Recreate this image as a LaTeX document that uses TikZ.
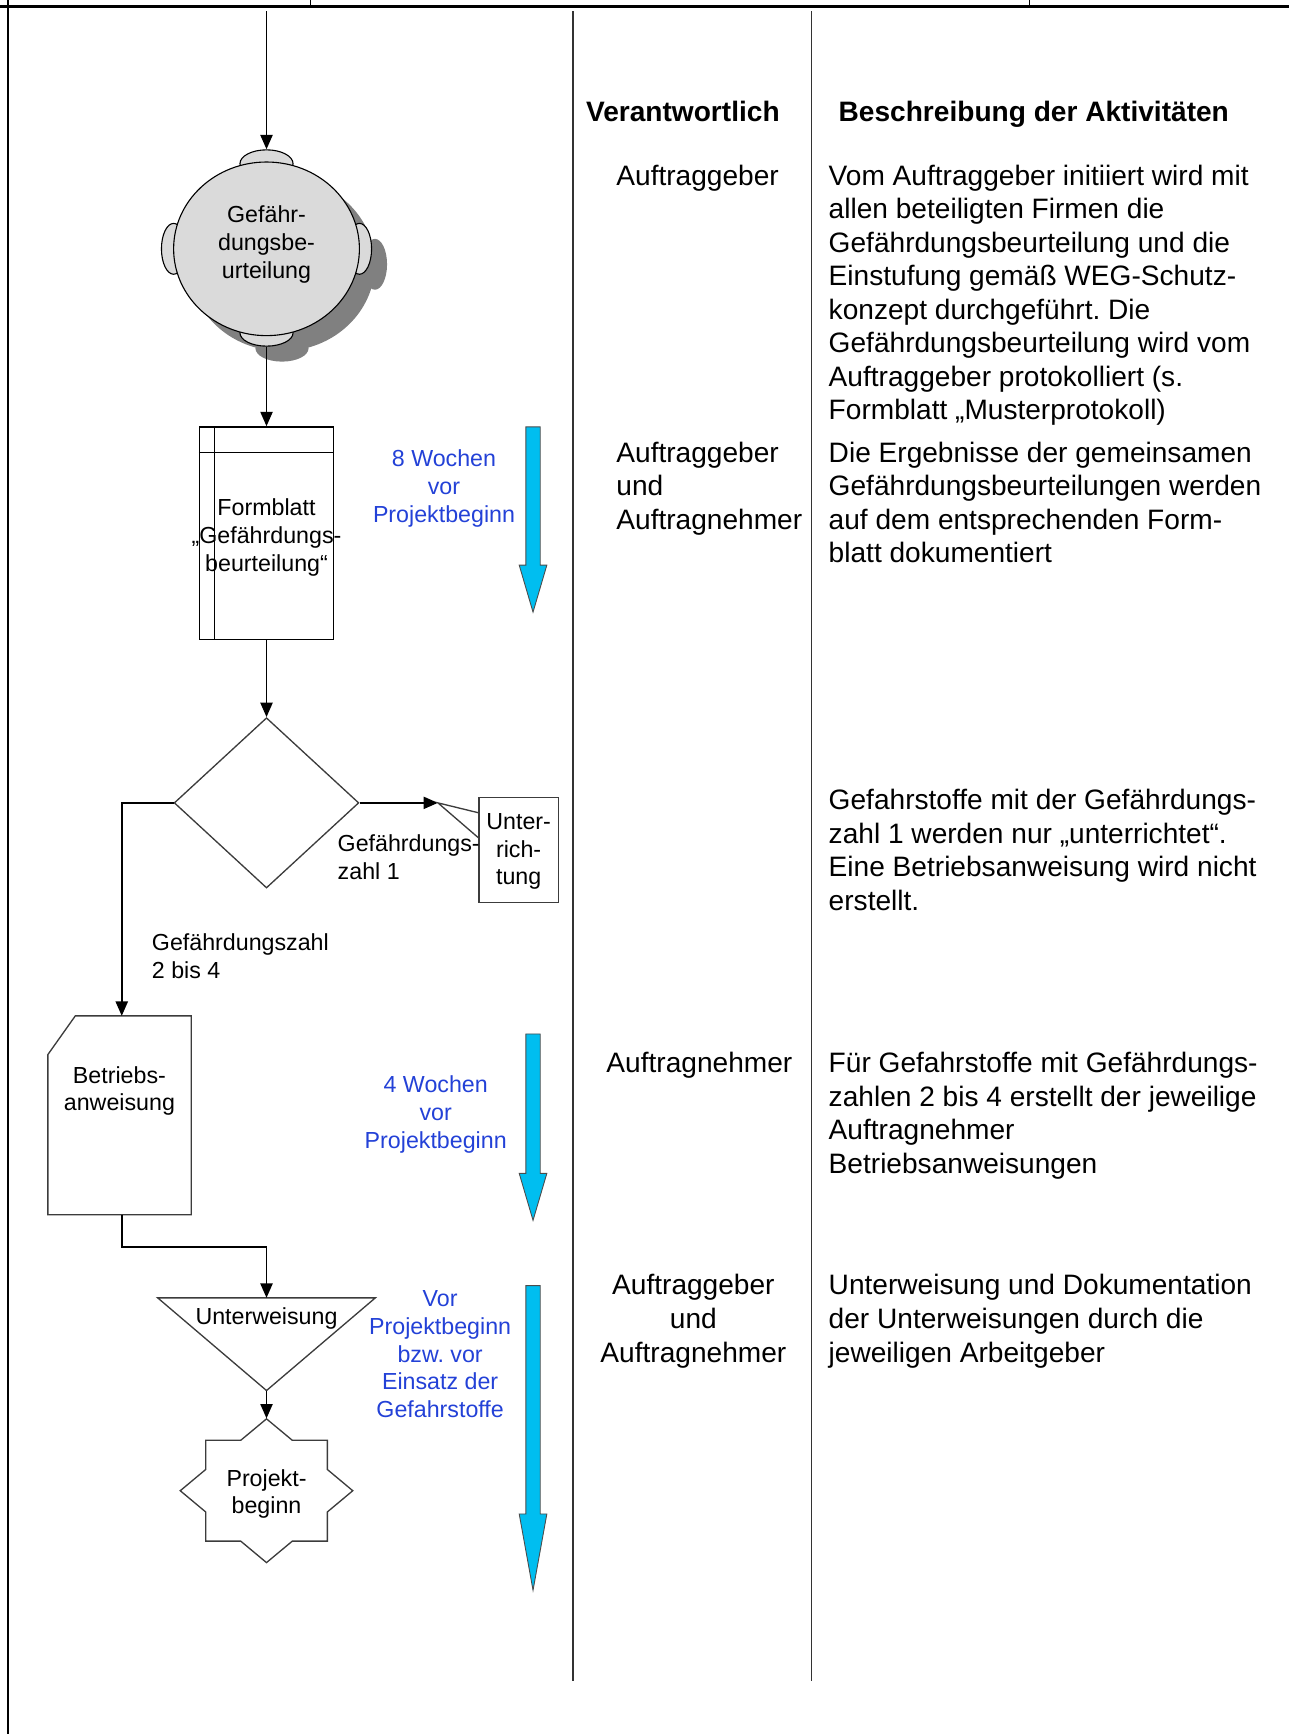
\documentclass[tikz,border=0pt]{standalone}
\usepackage{fontspec}
\setmainfont{Liberation Sans}
\frenchspacing
\usetikzlibrary{shapes.geometric,arrows.meta,calc}
\definecolor{blueT}{RGB}{35,65,215}
\definecolor{cyanA}{RGB}{0,190,240}
\definecolor{circfill}{RGB}{218,218,218}
\definecolor{shadowc}{RGB}{128,128,128}
\definecolor{lineg}{RGB}{60,60,60}
\begin{document}
\begin{tikzpicture}[x=0.5pt,y=-0.5pt,
  big/.style={font=\fontsize{12.7}{15.15}\selectfont, inner sep=0pt},
  hdr/.style={font=\fontsize{12.7}{15.15}\selectfont\bfseries, inner sep=0pt},
  small/.style={font=\fontsize{10.5}{12.6}\selectfont, inner sep=0pt},
  bluetxt/.style={small, text=blueT, align=center},
  flow/.style={draw=black, line width=0.75pt, -{Triangle[length=6.5pt,width=5.5pt]}},
  shapeline/.style={draw=lineg, line width=0.6pt},
  bump/.style={ellipse, fill=circfill, draw=black, line width=0.5pt, inner sep=0pt},
  bigarrow/.style={fill=cyanA, draw=black!70, line width=0.4pt},
]
\useasboundingbox (0,0) rectangle (1166,1568);
\newcommand{\cyanarrow}[4]{%
  \path[bigarrow] (#1-6.5,#2) -- (#1+6.5,#2) -- (#1+6.5,#3) -- (#1+12.5,#3)
    -- (#1,#4) -- (#1-12.5,#3) -- (#1-6.5,#3) -- cycle;}

% frame
\draw[line width=1.3pt] (0,5.5) -- (1166,5.5);
\draw[line width=0.6pt] (281,0) -- (281,5.5) (931,0) -- (931,5.5);
\draw[line width=1pt] (7.5,0) -- (7.5,1568);
\draw[line width=0.6pt, draw=black!80] (518,10) -- (518,1520) (734,10) -- (734,1520);

% headers
\node[hdr, anchor=base] (h1) at (617.5,110) {Verantwortlich};
\node[hdr, anchor=base west] (h2) at (758,110) {Beschreibung der Aktivitäten};

% responsible column (base anchor = last line)
\node[big, anchor=base west] (v1) at (557,167.5) {Auftraggeber};
\node[big, anchor=base west, align=left] (v2) at (557,478.6) {Auftraggeber\\und\\Auftragnehmer};
\node[big, anchor=base west] (v3) at (548,970) {Auftragnehmer};
\node[big, anchor=base, align=center] (v4) at (627,1231.6) {Auftraggeber\\und\\Auftragnehmer};

% description column (base anchor = last line)
\node[big, anchor=base west, align=left] (d1) at (749,379.6) {Vom Auftraggeber initiiert wird mit\\allen beteiligten Firmen die\\Gefährdungsbeurteilung und die\\Einstufung gemäß WEG-Schutz-\\konzept durchgeführt. Die\\Gefährdungsbeurteilung wird vom\\Auftraggeber protokolliert (s.\\Formblatt „Musterprotokoll)};
\node[big, anchor=base west, align=left] (d2) at (749,508.9) {Die Ergebnisse der gemeinsamen\\Gefährdungsbeurteilungen werden\\auf dem entsprechenden Form-\\blatt dokumentiert};
\node[big, anchor=base west, align=left] (d3) at (749,822.9) {Gefahrstoffe mit der Gefährdungs-\\zahl 1 werden nur „unterrichtet“.\\Eine Betriebsanweisung wird nicht\\erstellt.};
\node[big, anchor=base west, align=left] (d4) at (749,1060.9) {Für Gefahrstoffe mit Gefährdungs-\\zahlen 2 bis 4 erstellt der jeweilige\\Auftragnehmer\\Betriebsanweisungen};
\node[big, anchor=base west, align=left] (d5) at (749,1231.6) {Unterweisung und Dokumentation\\der Unterweisungen durch die\\jeweiligen Arbeitgeber};

% circle with shadow
\begin{scope}[shift={(14,14)}]
  \fill[shadowc] (241,225) ellipse [x radius=84, y radius=78.5];
  \fill[shadowc] (241,148) ellipse [x radius=24, y radius=12.5];
  \fill[shadowc] (241,301) ellipse [x radius=24, y radius=12];
  \fill[shadowc] (157,225) ellipse [x radius=11, y radius=23];
  \fill[shadowc] (325,225) ellipse [x radius=11, y radius=23];
\end{scope}
\node[bump, minimum width=24pt, minimum height=12.5pt] (bt) at (241,148) {};
\node[bump, minimum width=24pt, minimum height=12pt] (bb) at (241,301) {};
\node[bump, minimum width=11pt, minimum height=23pt] (bl) at (157,225) {};
\node[bump, minimum width=11pt, minimum height=23pt] (br) at (325,225) {};
\node[ellipse, fill=circfill, draw=black, line width=0.5pt, inner sep=0pt,
      minimum width=84pt, minimum height=78.5pt] (gb) at (241,225) {};
\node[small, align=center] (gbt) at (241,221) {Gefähr-\\dungsbe-\\urteilung};

\coordinate (start) at (241,10);
\draw[flow] (start) -- (bt.north);

% Formblatt
\node[draw=black, line width=0.6pt, minimum width=60.5pt, minimum height=96pt, inner sep=0pt] (fb) at (241,482) {};
\draw[line width=0.6pt] ($(fb.north west)+(14,0)$) -- ($(fb.south west)+(14,0)$);
\draw[line width=0.6pt] ($(fb.north west)+(0,23.5)$) -- ($(fb.north east)+(0,23.5)$);
\node[small, align=center] (fbt) at (241,486) {Formblatt\\„Gefährdungs-\\beurteilung“};
\draw[flow] (bb.south) -- (fb.north);

% decision
\node[diamond, shapeline, aspect=1.08, minimum width=83.5pt, minimum height=77pt, inner sep=0pt] (dec) at (241,726) {};
\draw[flow] (fb.south) -- (dec.north);

% Unterrichtung
\node[shapeline, draw, minimum width=36pt, minimum height=47.5pt, inner sep=0pt] (unt) at (469,768.5) {};
\node[small, align=center] (untt) at (469,770) {Unter-\\rich-\\tung};
\coordinate (utip) at (396,726);
\draw[flow] (dec.east) -- (utip);
\draw[shapeline] ($(unt.north west)+(0,14.5)$) -- (utip) -- ($(unt.north west)+(0,37)$);
\node[small, align=left, anchor=base west] (l1) at (305,795.2) {Gefährdungs-\\zahl 1};
\node[small, align=left, anchor=base west] (l2) at (137,884.7) {Gefährdungszahl\\2 bis 4};

% Betriebsanweisung
\node[minimum width=64.4pt, minimum height=89.5pt, inner sep=0pt] (ba) at (108.1,1008.5) {};
\draw[shapeline] (ba.south west) -- (ba.south east) -- (ba.north east)
  -- ($(ba.north west)+(24.8,0)$) -- ($(ba.north west)+(0,35)$) -- cycle;
\node[small, align=center] (bat) at (108,986.5) {Betriebs-\\anweisung};
\draw[flow] (dec.west) -| ([xshift=1pt]ba.north);

% Unterweisung
\node[minimum width=98pt, minimum height=41.5pt, inner sep=0pt] (uw) at (241,1215.5) {};
\draw[shapeline] (uw.north west) -- (uw.north east) -- (uw.south) -- cycle;
\node[small, anchor=base] (uwt) at (241,1197.5) {Unterweisung};
\draw[flow] ([xshift=1pt]ba.south) -- ++(0,29) -| (uw.north);

% Projektbeginn star
\node[minimum width=78pt, minimum height=65pt, inner sep=0pt] (st) at (241,1348) {};
\draw[shapeline, shift={(st.center)}] (0,-65) -- (23.3,-45.6) -- (55,-45.6) -- (55,-19.2) -- (78,0)
  -- (55,19.2) -- (55,45.6) -- (23.3,45.6) -- (0,65) -- (-23.3,45.6) -- (-55,45.6) -- (-55,19.2)
  -- (-78,0) -- (-55,-19.2) -- (-55,-45.6) -- (-23.3,-45.6) -- cycle;
\node[small, align=center] (stt) at (241,1351) {Projekt-\\beginn};
\draw[flow] (uw.south) -- (st.north);

% time arrows and labels
\cyanarrow{482}{386}{511}{553.5}
\cyanarrow{482}{935}{1061}{1103.5}
\cyanarrow{482}{1162.5}{1369}{1438}
\node[bluetxt] (t8) at (401.5,441.5) {8 Wochen\\vor\\Projektbeginn};
\node[bluetxt] (t4) at (394,1007.5) {4 Wochen\\vor\\Projektbeginn};
\node[bluetxt] (tv) at (398,1224.5) {Vor\\Projektbeginn\\bzw. vor\\Einsatz der\\Gefahrstoffe};
\end{tikzpicture}
\end{document}
